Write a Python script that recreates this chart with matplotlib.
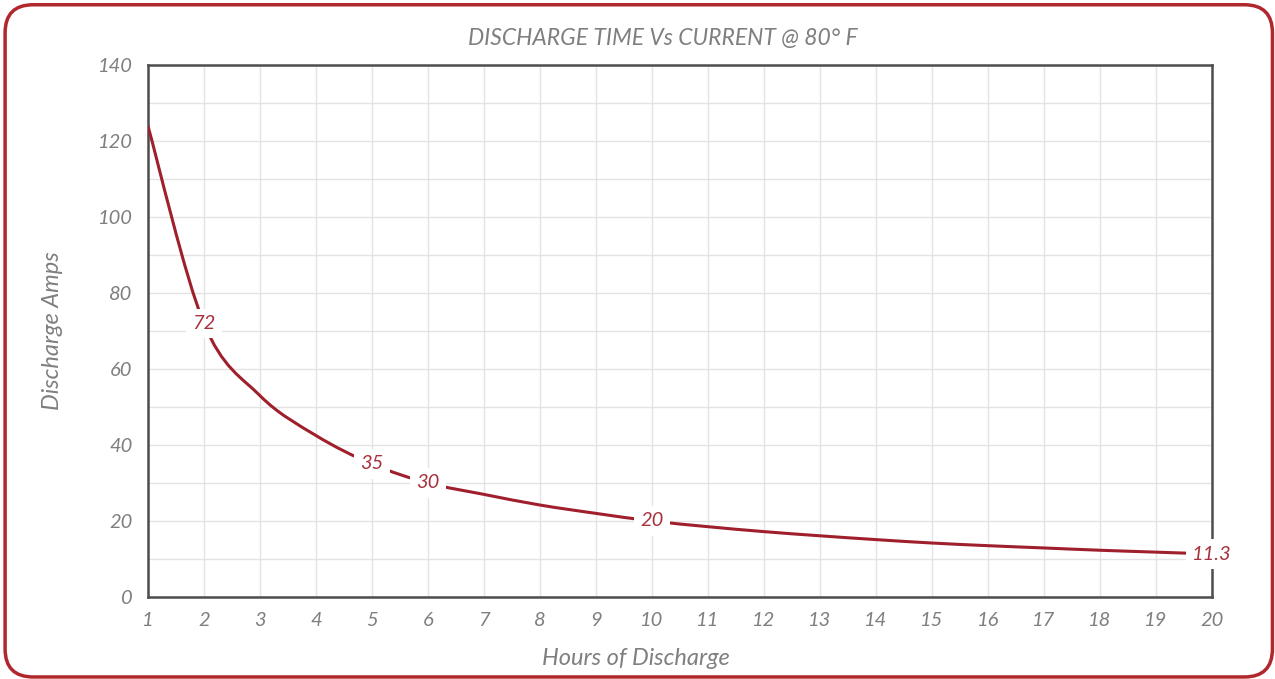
import numpy as np
import matplotlib.pyplot as plt
from matplotlib.patches import FancyBboxPatch, PathPatch
from matplotlib.path import Path

# hours of discharge and current (amps)
hours = [1, 2, 3, 4, 5, 6, 7, 8, 9, 10, 11, 12, 13, 14, 15, 16, 17, 18, 19, 20]
amps = [124, 72, 53, 42.5, 35, 30, 27, 24.2, 22, 20, 18.5, 17.2, 16.1, 15.1, 14.2,
        13.5, 12.9, 12.3, 11.8, 11.3]
labelled = {2: '72', 5: '35', 6: '30', 10: '20', 20: '11.3'}

plt.rcParams['font.family'] = ['Lato', 'DejaVu Sans']
GREY = '#7f7f7f'
RED = '#a01f2c'


def smooth_path(x, y):
    # excel-style smoothed line: cubic bezier through every point
    p = np.column_stack([x, y]).astype(float)
    ext = np.vstack([p[0], p, p[-1]])
    verts = [p[0]]
    codes = [Path.MOVETO]
    for i in range(len(p) - 1):
        c1 = ext[i + 1] + (ext[i + 2] - ext[i]) / 6
        c2 = ext[i + 2] - (ext[i + 3] - ext[i + 1]) / 6
        verts += [c1, c2, ext[i + 2]]
        codes += [Path.CURVE4] * 3
    return Path(verts, codes)


fig = plt.figure(figsize=(12.75, 6.79), dpi=100)
ax = fig.add_axes([0.116, 0.1208, 0.8345, 0.7835])

# rounded red frame around the whole chart
frame = FancyBboxPatch((0.004, 0.003), 0.994, 0.99, boxstyle='round,pad=0,rounding_size=0.022',
                       transform=fig.transFigure, fill=False, edgecolor='#b0282d', linewidth=2.5,
                       mutation_aspect=1275/679)
fig.patches.append(frame)

ax.add_patch(PathPatch(smooth_path(hours, amps), facecolor='none', edgecolor=RED,
                       linewidth=2.2, zorder=3))
for h, txt in labelled.items():
    ax.text(h, amps[hours.index(h)], txt, ha='center', va='center', fontsize=14.5,
            style='italic', color='#a8323e', zorder=4,
            bbox=dict(boxstyle='square,pad=0.3', facecolor='white', edgecolor='none'))

ax.set_xlim(1, 20)
ax.set_ylim(0, 140)
ax.set_xticks(hours)
ax.set_yticks(np.arange(0, 141, 20))
ax.set_yticks(np.arange(10, 140, 20), minor=True)
ax.grid(True, which='both', color='#e3e3e3', linewidth=1)
ax.set_axisbelow(True)
ax.tick_params(which='both', length=0, labelsize=14.5, labelcolor=GREY, pad=11)
for lab in ax.get_xticklabels() + ax.get_yticklabels():
    lab.set_style('italic')
for sp in ax.spines.values():
    sp.set_color('#4d4d4d')
    sp.set_linewidth(1.8)

ax.set_xlabel('Hours of Discharge', fontsize=17, style='italic', color=GREY, labelpad=8)
ax.xaxis.set_label_coords(0.459, -0.095)
ax.set_ylabel('Discharge Amps', fontsize=17, style='italic', color=GREY)
ax.yaxis.set_label_coords(-0.08, 0.5)
fig.text(0.52, 0.944, 'DISCHARGE TIME Vs CURRENT @ 80° F', ha='center', va='center',
         fontsize=16.5, style='italic', color=GREY)

fig.savefig('out.png', dpi=100, facecolor='white')
